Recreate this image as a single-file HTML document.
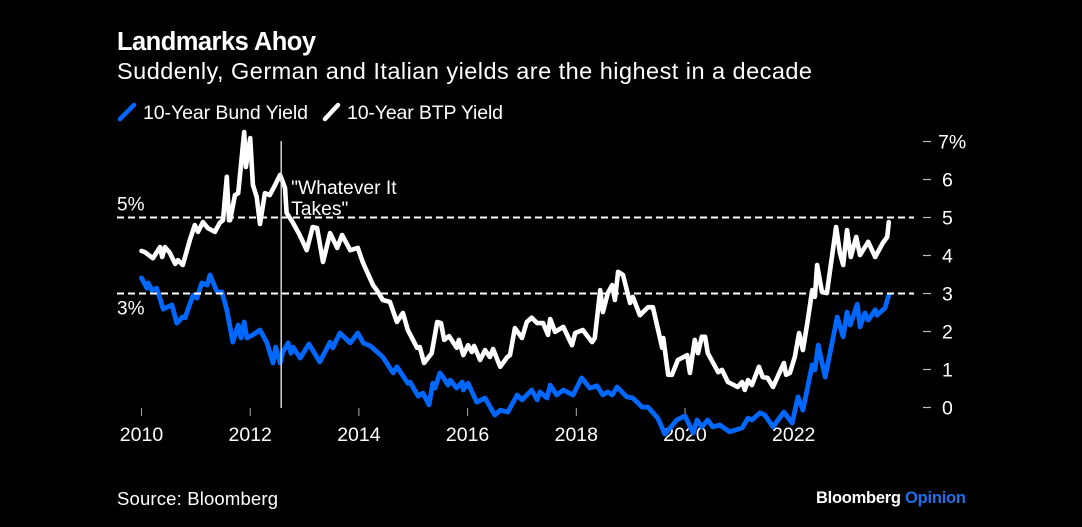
<!DOCTYPE html>
<html lang="en">
<head>
<meta charset="utf-8">
<title>Landmarks Ahoy</title>
<style>
html,body{margin:0;padding:0;background:#000;width:1082px;height:527px;overflow:hidden}
svg{display:block}
text{font-family:"Liberation Sans",Arial,sans-serif;fill:#fff}
</style>
</head>
<body>
<svg id="chart" xmlns="http://www.w3.org/2000/svg" width="1082" height="527" viewBox="0 0 1082 527">
  <rect width="1082" height="527" fill="#000"/>
  <text x="117" y="50" font-size="25.5" font-weight="700" textLength="199" lengthAdjust="spacing">Landmarks Ahoy</text>
  <text x="117" y="79" font-size="23.5" textLength="695" lengthAdjust="spacing">Suddenly, German and Italian yields are the highest in a decade</text>
  <g>
    <line x1="120" y1="119" x2="134" y2="105" stroke="#0068ff" stroke-width="4.5" stroke-linecap="round"/>
    <text x="143" y="119" font-size="19.5" textLength="165" lengthAdjust="spacing">10-Year Bund Yield</text>
    <line x1="325" y1="119" x2="338" y2="105" stroke="#fff" stroke-width="4.5" stroke-linecap="round"/>
    <text x="347" y="119" font-size="19.5" textLength="156" lengthAdjust="spacing">10-Year BTP Yield</text>
  </g>
  <g id="plot"></g>
  <text x="117" y="505" font-size="18.5" textLength="161" lengthAdjust="spacing">Source: Bloomberg</text>
  <g>
    <text x="816" y="503" font-size="16.5" font-weight="700" textLength="85" lengthAdjust="spacing">Bloomberg</text>
    <text x="905" y="503" font-size="16.5" font-weight="700" style="fill:#1f6fe8" textLength="61" lengthAdjust="spacing">Opinion</text>
  </g>
</svg>
<script>
const xTickYears = [2010, 2012, 2014, 2016, 2018, 2020, 2022];
const yTickValues = [0, 1, 2, 3, 4, 5, 6, 7];
const referenceLevels = [3, 5];
const referenceLabels = ["3%", "5%"];
const annotationYear = 2012.57;
const annotationLines = ['"Whatever It', 'Takes"'];

const btpDates = [2010.00,2010.06,2010.21,2010.34,2010.38,2010.43,2010.52,2010.62,2010.67,2010.76,2010.89,2010.98,2011.04,2011.13,2011.22,2011.35,2011.44,2011.50,2011.57,2011.61,2011.63,2011.72,2011.78,2011.89,2011.92,2012.00,2012.05,2012.12,2012.18,2012.27,2012.36,2012.46,2012.55,2012.64,2012.67,2012.78,2012.91,2013.04,2013.15,2013.23,2013.34,2013.47,2013.60,2013.69,2013.84,2013.98,2014.07,2014.26,2014.33,2014.44,2014.57,2014.70,2014.81,2014.90,2015.07,2015.12,2015.20,2015.34,2015.44,2015.51,2015.57,2015.66,2015.80,2015.84,2015.92,2016.01,2016.08,2016.12,2016.23,2016.32,2016.41,2016.47,2016.60,2016.73,2016.78,2016.87,2017.00,2017.09,2017.18,2017.28,2017.39,2017.48,2017.52,2017.61,2017.76,2017.92,2017.98,2018.12,2018.29,2018.34,2018.44,2018.49,2018.58,2018.66,2018.71,2018.77,2018.86,2018.99,2019.04,2019.17,2019.32,2019.41,2019.58,2019.60,2019.69,2019.76,2019.87,2020.04,2020.09,2020.18,2020.24,2020.31,2020.37,2020.42,2020.61,2020.68,2020.79,2020.97,2021.05,2021.10,2021.16,2021.23,2021.36,2021.43,2021.52,2021.62,2021.82,2021.86,2021.93,2022.02,2022.10,2022.17,2022.26,2022.34,2022.39,2022.43,2022.52,2022.61,2022.78,2022.85,2022.91,2022.98,2023.05,2023.15,2023.22,2023.37,2023.50,2023.64,2023.72,2023.75];
const btpYields = [4.12,4.09,3.93,4.22,3.96,4.22,4.07,3.78,3.88,3.75,4.41,4.80,4.62,4.88,4.72,4.62,4.86,4.93,6.07,4.93,4.93,5.59,5.64,7.25,6.33,7.09,5.86,5.54,4.83,5.64,5.59,5.86,6.12,5.78,5.12,4.88,4.54,4.14,4.75,4.72,3.83,4.59,4.20,4.54,4.14,4.20,3.83,3.22,3.09,2.83,2.78,2.25,2.49,2.04,1.57,1.59,1.17,1.43,2.25,2.22,1.78,1.88,1.57,1.78,1.38,1.64,1.46,1.62,1.25,1.51,1.33,1.54,1.07,1.33,1.38,2.09,1.83,2.25,2.36,2.22,2.22,1.91,2.33,1.99,2.12,1.64,1.96,2.04,1.72,1.83,3.09,2.51,3.01,3.22,2.83,3.57,3.49,2.75,2.91,2.43,2.64,2.64,1.57,1.83,0.86,0.86,1.25,1.38,0.91,1.78,1.43,1.86,1.86,1.43,0.93,0.99,0.67,0.54,0.67,0.46,0.72,0.59,1.07,0.80,0.78,0.54,1.17,0.86,0.91,1.33,1.96,1.51,2.30,3.09,2.91,3.75,3.04,3.01,4.75,4.07,3.75,4.67,3.96,4.49,4.01,4.36,3.96,4.33,4.49,4.88];

const bundDates = [2010.00,2010.10,2010.12,2010.19,2010.28,2010.40,2010.56,2010.65,2010.75,2010.80,2010.95,2011.02,2011.11,2011.21,2011.26,2011.39,2011.48,2011.57,2011.68,2011.78,2011.83,2011.89,2011.94,2012.05,2012.18,2012.31,2012.42,2012.47,2012.55,2012.60,2012.70,2012.75,2012.79,2012.92,2013.08,2013.28,2013.47,2013.52,2013.65,2013.84,2013.98,2014.08,2014.21,2014.44,2014.63,2014.70,2014.90,2014.94,2015.09,2015.18,2015.29,2015.36,2015.40,2015.49,2015.55,2015.64,2015.68,2015.80,2015.90,2015.92,2016.01,2016.17,2016.32,2016.50,2016.60,2016.74,2016.91,2017.00,2017.18,2017.28,2017.33,2017.46,2017.52,2017.64,2017.76,2017.94,2018.10,2018.25,2018.38,2018.49,2018.58,2018.66,2018.75,2018.93,2019.04,2019.21,2019.32,2019.50,2019.63,2019.85,2020.00,2020.15,2020.22,2020.31,2020.42,2020.51,2020.64,2020.82,2021.05,2021.16,2021.23,2021.38,2021.47,2021.62,2021.82,2021.97,2022.08,2022.17,2022.34,2022.39,2022.45,2022.58,2022.80,2022.91,2022.98,2023.04,2023.17,2023.22,2023.31,2023.37,2023.50,2023.53,2023.68,2023.75];
const bundYields = [3.41,3.14,3.28,3.09,3.14,2.59,2.70,2.22,2.38,2.36,2.96,2.88,3.28,3.22,3.49,3.04,3.04,2.57,1.72,2.17,1.83,2.25,1.83,1.91,2.04,1.70,1.17,1.59,1.17,1.46,1.70,1.43,1.59,1.30,1.67,1.20,1.72,1.57,1.96,1.70,1.96,1.70,1.62,1.33,0.91,1.07,0.64,0.67,0.30,0.38,0.07,0.64,0.51,0.91,0.80,0.59,0.72,0.51,0.67,0.46,0.64,0.14,0.25,-0.20,-0.07,-0.12,0.33,0.20,0.46,0.20,0.41,0.25,0.59,0.33,0.46,0.33,0.78,0.51,0.57,0.33,0.41,0.33,0.54,0.28,0.25,0.01,0.01,-0.28,-0.70,-0.33,-0.22,-0.67,-0.33,-0.51,-0.33,-0.51,-0.46,-0.64,-0.54,-0.28,-0.33,-0.14,-0.20,-0.51,-0.12,-0.41,0.28,-0.07,1.12,0.99,1.64,0.80,2.38,1.86,2.51,2.17,2.72,2.12,2.49,2.30,2.57,2.43,2.62,2.96];

const NS = 'http://www.w3.org/2000/svg';
const plot = document.getElementById('plot');
const xScale = function (year) { return 141.5 + (year - 2010) * 54.35; };
const yScale = function (value) { return 407.5 - value * 38; };

function make(tag, attrs, text) {
  const el = document.createElementNS(NS, tag);
  for (const key in attrs) el.setAttribute(key, attrs[key]);
  if (text !== undefined) el.textContent = text;
  plot.appendChild(el);
  return el;
}

xTickYears.forEach(function (year) {
  const tick = make('line', { x1: xScale(year), x2: xScale(year), y1: 408, y2: 416, stroke: '#aaa', 'stroke-width': 1 });
  
  
  const label = make('text', { x: xScale(year), y: 441, 'font-size': 19.5, 'text-anchor': 'middle' }, String(year));
  
  
});

yTickValues.forEach(function (value, i) {
  const tick = make('line', { x1: 923, x2: 931, y1: yScale(value), y2: yScale(value), stroke: '#bbb', 'stroke-width': 1.2 });
  
  
  const isTop = i === yTickValues.length - 1;
  const label = make('text', { x: isTop ? 938 : 942, y: yScale(value) + 7, 'font-size': 19.5 }, isTop ? value + '%' : String(value));
  
  
});

function drawSeries(dates, values, colour, width, name) {
  const points = dates.map(function (d, i) { return xScale(d).toFixed(1) + ',' + yScale(values[i]).toFixed(1); });
  const line = make('polyline', { points: points.join(' '), fill: 'none', stroke: colour, 'stroke-width': width, 'stroke-linejoin': 'round', 'stroke-linecap': 'round' });
  
  
}

drawSeries(bundDates, bundYields, '#0068ff', 4.8, 'bund-yield-line');
drawSeries(btpDates, btpYields, '#ffffff', 4.6, 'btp-yield-line');

referenceLevels.forEach(function (level, i) {
  const rule = make('line', { x1: 117, x2: 914, y1: yScale(level), y2: yScale(level), stroke: '#fff', 'stroke-width': 2, 'stroke-dasharray': '7 4' });
  
  
  const offset = level === 3 ? 21 : -7;
  const label = make('text', { x: 117, y: yScale(level) + offset, 'font-size': 19 }, referenceLabels[i]);
  
  
});

const marker = make('line', { x1: xScale(annotationYear), x2: xScale(annotationYear), y1: 141, y2: 408, stroke: '#ddd', 'stroke-width': 1.4 });



annotationLines.forEach(function (lineText, i) {
  const note = make('text', { x: xScale(annotationYear) + 10, y: 194 + i * 21, 'font-size': 19.3 }, lineText);
  
  
});
</script>
</body>
</html>
